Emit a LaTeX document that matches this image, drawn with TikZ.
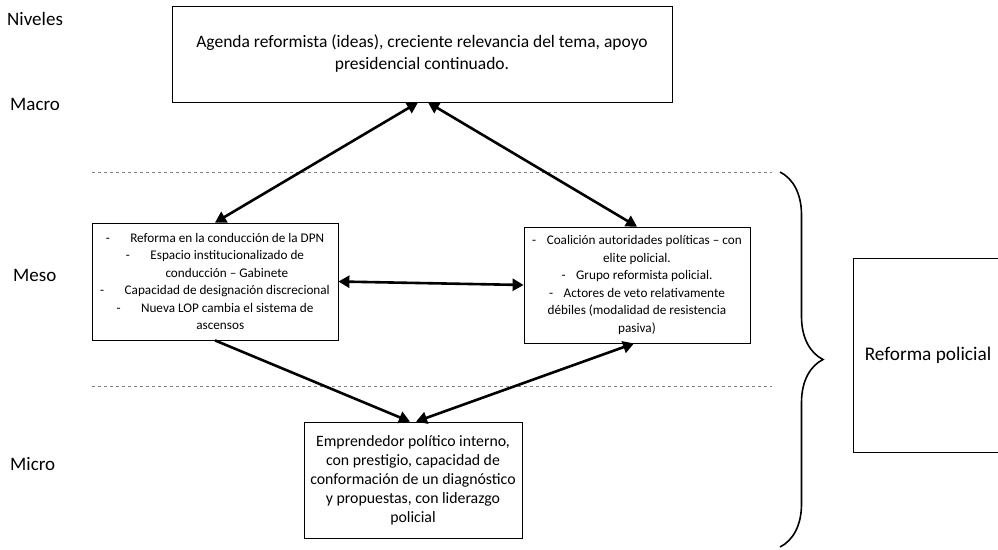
\documentclass[tikz,border=0pt]{standalone}
\usepackage{fontspec}
\setmainfont{Carlito}
\usetikzlibrary{arrows.meta,decorations.pathreplacing}

\tikzset{
    caja/.style = {draw, line width=0.8pt, align=center, inner sep=0pt},
    flecha/.style = {line width=2.6pt, -{Triangle[length=11pt,width=12pt]}},
    doble/.style = {flecha, {Triangle[length=11pt,width=12pt]}-{Triangle[length=11pt,width=12pt]}},
    nivel/.style = {anchor=west, inner sep=0pt, font=\fontsize{19}{22}\selectfont},
    chico/.style = {font=\fontsize{13.2}{17.5}\selectfont},
}

\begin{document}
\begin{tikzpicture}[x=1pt, y=-1pt]
    \useasboundingbox (0,0) rectangle (998,549);

    % niveles
    \foreach \nom/\x/\y in {Niveles/7/19, Macro/10/104, Meso/13/275, Micro/10/464}
        \node[nivel] (\nom) at (\x,\y) {\nom};

    % separadores
    \foreach \y in {172.5, 386}
        \draw[gray, dashed, line width=0.6pt] (92,\y) -- (772,\y);

    % cajas
    \node[caja, minimum width=500, minimum height=96, font=\fontsize{17.5}{22}\selectfont]
        (macro) at (422,54)
        {Agenda reformista (ideas), creciente relevancia del tema, apoyo\\
         presidencial continuado.};
    \node[caja, chico, minimum width=246, minimum height=117]
        (mesoL) at (215,281.5)
        {-\hspace{1.55em}Reforma en la conducción de la DPN\\
         -\hspace{1.55em}Espacio institucionalizado de\\
         \hspace{1.8em}conducción – Gabinete\\
         -\hspace{1.55em}Capacidad de designación discrecional\\
         -\hspace{1.55em}Nueva LOP cambia el sistema de\\
         \hspace{0.8em}ascensos};
    \node[caja, chico, minimum width=226, minimum height=116]
        (mesoR) at (637,285)
        {-\hspace{0.8em}Coalición autoridades políticas – con\\
         elite policial.\\
         -\hspace{0.8em}Grupo reformista policial.\\
         -\hspace{0.8em}Actores de veto relativamente\\
         débiles (modalidad de resistencia\\
         pasiva)};
    \node[caja, minimum width=218, minimum height=116, font=\fontsize{15.8}{19}\selectfont]
        (micro) at (413,480)
        {Emprendedor político interno,\\
         con prestigio, capacidad de\\
         conformación de un diagnóstico\\
         y propuestas, con liderazgo\\
         policial};
    \node[caja, minimum width=150, minimum height=194, font=\fontsize{19.3}{22}\selectfont]
        (reforma) at (928,355) {Reforma policial};

    % flechas
    \draw[doble] ([xshift=-4]macro.south) -- (mesoL.north);
    \draw[doble] ([xshift=6]macro.south) -- (mesoR.north);
    \draw[doble] (mesoL.east) -- (mesoR.west);
    \draw[flecha] (mesoL.south) -- ([xshift=-3]micro.north);
    \draw[doble] ([xshift=-3]mesoR.south) -- ([xshift=3]micro.north);

    % llave
    \draw[line width=1.6pt, decorate, decoration={brace, amplitude=43pt}]
        (780,172) -- (780,547);

\end{tikzpicture}
\end{document}
